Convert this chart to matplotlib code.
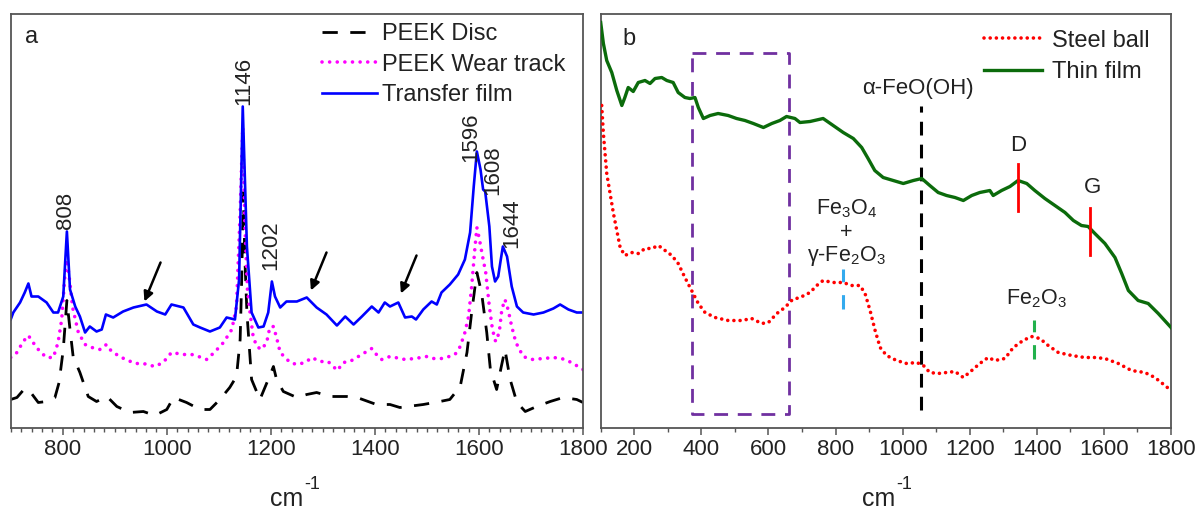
import matplotlib
matplotlib.use("Agg")
import matplotlib.pyplot as plt
from matplotlib.ticker import MultipleLocator

plt.rcParams['font.family'] = ['Liberation Sans', 'DejaVu Sans']
plt.rcParams['mathtext.default'] = 'regular'

# ---------------- Panel a data ----------------
film_x = [700, 705, 718, 727, 734, 740, 753, 769, 782, 791, 801, 808, 814, 824, 833, 843, 852, 865, 875, 883,
          897, 916, 936, 961, 981, 997, 1009, 1032, 1051, 1064, 1083, 1102, 1115, 1131, 1139, 1146, 1154, 1163,
          1176, 1186, 1195, 1202, 1208, 1218, 1230, 1250, 1269, 1288, 1307, 1327, 1343, 1359, 1375, 1394, 1407,
          1419, 1429, 1445, 1458, 1471, 1479, 1493, 1509, 1519, 1528, 1544, 1560, 1573, 1583, 1590, 1596, 1603,
          1608, 1612, 1620, 1625, 1631, 1637, 1642, 1646, 1654, 1663, 1673, 1685, 1705, 1724, 1743, 1756, 1772,
          1788, 1800]
film_y = [108, 115, 125, 135, 144, 131, 131, 125, 115, 115, 131, 196, 138, 121, 111, 95, 101, 96, 98, 113,
          110, 116, 120, 123, 116, 113, 123, 120, 103, 100, 96, 100, 110, 108, 148, 321, 181, 115,
          100, 101, 115, 146, 131, 120, 126, 126, 130, 120, 113, 102, 111, 103, 111, 121, 115,
          125, 121, 125, 110, 111, 108, 118, 126, 123, 135, 143, 153, 168, 195, 241, 276, 258,
          238, 236, 201, 161, 146, 151, 168, 181, 171, 141, 121, 115, 113, 115, 119, 123, 118,
          115, 115]

wear_x = [700, 712, 724, 734, 743, 756, 769, 782, 791, 798, 804, 808, 813, 819, 830, 843, 856, 872, 884, 894,
          913, 939, 955, 977, 993, 1009, 1032, 1048, 1061, 1077, 1093, 1109, 1125, 1134, 1141, 1146, 1150,
          1155, 1160, 1166, 1173, 1182, 1192, 1198, 1205, 1211, 1218, 1237, 1250, 1266, 1279, 1294, 1310,
          1320, 1328, 1339, 1352, 1365, 1381, 1394, 1403, 1413, 1429, 1439, 1458, 1477, 1500, 1512, 1528,
          1543, 1554, 1564, 1573, 1580, 1586, 1592, 1596, 1601, 1607, 1613, 1620, 1626, 1632, 1639, 1644,
          1650, 1656, 1663, 1671, 1685, 1701, 1724, 1743, 1759, 1778, 1800]
wear_y = [70, 75, 86, 92, 85, 76, 70, 70, 85, 108, 151, 168, 148, 120, 95, 83, 80, 78, 83, 76,
          70, 64, 64, 61, 65, 75, 73, 73, 71, 68, 76, 85, 98, 121, 215, 300, 205,
          138, 115, 91, 81, 78, 85, 100, 101, 90, 75, 65, 63, 65, 70, 66, 66,
          61, 57, 65, 66, 70, 75, 79, 73, 68, 71, 70, 68, 69, 71, 69, 69,
          71, 73, 81, 95, 111, 141, 178, 200, 188, 171, 155, 121, 98, 86, 95, 118,
          128, 118, 101, 85, 71, 68, 69, 70, 69, 65, 58]

disc_x = [700, 712, 727, 740, 753, 769, 785, 793, 801, 808, 814, 820, 833, 849, 865, 885, 904, 929, 955, 977,
          1000, 1013, 1038, 1064, 1083, 1102, 1121, 1134, 1141, 1144, 1147, 1150, 1154, 1163, 1179, 1195,
          1205, 1211, 1224, 1250, 1269, 1288, 1314, 1346, 1371, 1403, 1429, 1448, 1493, 1525, 1544, 1564,
          1577, 1586, 1596, 1605, 1615, 1622, 1634, 1643, 1650, 1660, 1673, 1689, 1711, 1737, 1762, 1788, 1800]
disc_y = [28, 30, 39, 34, 25, 26, 30, 45, 78, 127, 98, 71, 55, 31, 26, 31, 21, 15, 16, 12,
          18, 30, 25, 18, 18, 28, 40, 51, 88, 148, 235, 170, 115, 48, 28, 48,
          61, 48, 36, 30, 33, 35, 31, 31, 29, 23, 23, 20, 23, 26, 28, 41,
          75, 115, 155, 135, 95, 58, 38, 61, 78, 48, 25, 16, 21, 26, 30, 28, 25]

peak_labels = ['808', '1146', '1202', '1596', '1608', '1644']
peak_label_x = [806, 1147, 1199, 1584, 1626, 1663]
peak_label_y = [199, 323, 158, 266, 233, 180]

arrow_tail_x = [988, 1307, 1480]
arrow_tail_y = [165, 175, 172]
arrow_head_x = [957, 1277, 1450]
arrow_head_y = [126, 137, 134]

# ---------------- Panel b data ----------------
thin_x = [100, 108, 118, 133, 148, 163, 172, 182, 197, 212, 232, 247, 262, 282, 297, 316, 331, 351, 366, 381,
          391, 406, 426, 450, 480, 505, 530, 555, 585, 610, 634, 654, 679, 694, 724, 763, 793, 823, 853,
          878, 897, 917, 942, 972, 1002, 1032, 1057, 1081, 1106, 1131, 1156, 1181, 1206, 1230, 1260, 1270,
          1295, 1320, 1344, 1370, 1394, 1424, 1454, 1484, 1509, 1533, 1553, 1573, 1603, 1633, 1653, 1673,
          1702, 1732, 1762, 1800]
thin_y = [405, 384, 367, 355, 337, 322, 330, 340, 336, 345, 347, 344, 349, 350, 347, 345, 335, 330, 329, 330,
          320, 309, 312, 314, 312, 309, 307, 304, 300, 304, 307, 311, 309, 305, 306, 309, 302, 295, 289,
          280, 269, 257, 250, 247, 244, 247, 249, 242, 235, 232, 230, 227, 232, 235, 237, 232,
          237, 241, 247, 244, 237, 229, 222, 215, 207, 202, 201, 194, 184, 170, 154, 137,
          127, 124, 114, 100]

steel_x = [103, 108, 113, 118, 128, 138, 148, 158, 172, 192, 212, 232, 252, 272, 292, 312, 331, 351, 371, 391,
           411, 441, 480, 520, 550, 580, 600, 625, 649, 672, 694, 724, 744, 763, 793, 823, 848, 873, 888,
           903, 918, 933, 952, 982, 1012, 1042, 1062, 1081, 1106, 1131, 1156, 1181, 1206, 1230, 1255, 1275,
           1305, 1330, 1359, 1384, 1409, 1434, 1464, 1504, 1543, 1573, 1603, 1643, 1682, 1722, 1752, 1782, 1800]
steel_y = [322, 294, 274, 254, 234, 214, 197, 180, 172, 175, 174, 179, 179, 182, 177, 172, 164, 150, 137, 124,
           115, 110, 107, 107, 109, 104, 105, 114, 120, 128, 130, 135, 142, 147, 145, 145, 142, 142, 134,
           117, 97, 80, 72, 67, 64, 65, 62, 55, 54, 55, 56, 50, 57, 64, 70, 67,
           69, 80, 87, 91, 89, 82, 75, 72, 70, 70, 69, 64, 57, 55, 50, 42, 37]

box_x = [371, 660]
box_y = [14, 375]
feooh_x = 1055
feooh_y = [18, 322]
D_x, D_y = 1344, [217, 264]
G_x, G_y = 1560, [173, 220]
fe3o4_tick_x, fe3o4_tick_y = 821, [119, 159]
fe2o3_tick_x, fe2o3_tick_y = 1392, [69, 108]

# ---------------- Figure ----------------
W, H = 1199, 509
fig = plt.figure(figsize=(W / 100, H / 100), dpi=100)
bot = 427.5
top = 14
axa = fig.add_axes([10.7 / W, (H - bot) / H, 572.3 / W, (bot - top) / H])
axb = fig.add_axes([600.7 / W, (H - bot) / H, 570.3 / W, (bot - top) / H])

spine_c = '#555555'
txtc = '#222222'
for ax in (axa, axb):
    for s in ax.spines.values():
        s.set_color(spine_c)
        s.set_linewidth(1.3)
    ax.set_yticks([])
    ax.tick_params(axis='x', which='major', direction='out', length=5, width=1.1, color=spine_c,
                   labelsize=16, labelcolor=txtc, pad=3.5)
    ax.tick_params(axis='x', which='minor', direction='out', length=3, width=1.0, color=spine_c)
    ax.set_ylim(0, bot - top)

# Panel a
axa.set_xlim(700, 1800)
axa.set_xticks([800, 1000, 1200, 1400, 1600, 1800])
axa.xaxis.set_minor_locator(MultipleLocator(20))

l1, = axa.plot(disc_x, disc_y, color='black', lw=2.0, linestyle=(0, (5.5, 4.5)), label='PEEK Disc')
l2, = axa.plot(wear_x, wear_y, color='#FF00FF', lw=2.6, linestyle=(0, (0.01, 2.1)),
               dash_capstyle='round', label='PEEK Wear track')
l3, = axa.plot(film_x, film_y, color='#0000FF', lw=1.9, label='Transfer film')

for t, x, y in zip(peak_labels, peak_label_x, peak_label_y):
    axa.text(x, y, t, rotation=90, ha='center', va='bottom', fontsize=16, color=txtc)

for tx, ty, hx, hy in zip(arrow_tail_x, arrow_tail_y, arrow_head_x, arrow_head_y):
    axa.annotate('', xy=(hx, hy), xytext=(tx, ty),
                 arrowprops=dict(arrowstyle='-|>', color='black', lw=1.8, mutation_scale=14,
                                 shrinkA=0, shrinkB=0))

leg = axa.legend(handles=[l1, l2, l3], loc='upper left', bbox_to_anchor=(0.532, 0.995),
                 frameon=False, fontsize=17, handlelength=2.3, handletextpad=0.25,
                 labelspacing=0.36, borderpad=0.3, borderaxespad=0)
for t in leg.get_texts():
    t.set_color(txtc)
axa.text(0.036, 0.945, 'a', transform=axa.transAxes, fontsize=17, ha='center', va='center', color=txtc)

# Panel b
axb.set_xlim(100, 1800)
axb.set_xticks([200, 400, 600, 800, 1000, 1200, 1400, 1600, 1800])
axb.xaxis.set_minor_locator(MultipleLocator(100))

axb.plot([box_x[0], box_x[1], box_x[1], box_x[0], box_x[0]],
         [box_y[1], box_y[1], box_y[0], box_y[0], box_y[1]],
         color='#7030A0', lw=2.0, linestyle=(0, (5, 3.5)), zorder=1)
axb.plot([feooh_x, feooh_x], feooh_y, color='black', lw=2.2, linestyle=(0, (4.5, 3)), zorder=1)
axb.plot([fe3o4_tick_x, fe3o4_tick_x], fe3o4_tick_y, color='#33AAEE', lw=2.2, linestyle=(0, (4.7, 4.2)), zorder=1)
axb.plot([fe2o3_tick_x, fe2o3_tick_x], fe2o3_tick_y, color='#22B14C', lw=2.2, linestyle=(0, (4.7, 4.2)), zorder=1)

s1, = axb.plot(steel_x, steel_y, color='#FF0000', lw=2.6, linestyle=(0, (0.01, 1.7)),
               dash_capstyle='round', label='Steel ball', zorder=3)
s2, = axb.plot(thin_x, thin_y, color='#0B6B0B', lw=2.4, label='Thin film', zorder=3)

axb.plot([D_x, D_x], D_y, color='#FF0000', lw=2.0, zorder=4)
axb.plot([G_x, G_x], G_y, color='#FF0000', lw=2.0, zorder=4)

axb.text(feooh_x - 10, 339, 'α-FeO(OH)', ha='center', va='center', fontsize=16, color=txtc)
axb.text(D_x, 282, 'D', ha='center', va='center', fontsize=16, color=txtc)
axb.text(G_x + 5, 240, 'G', ha='center', va='center', fontsize=16, color=txtc)
axb.text(833, 219, 'Fe$_3$O$_4$', ha='center', va='center', fontsize=15.5, color=txtc)
axb.text(833, 195, '+', ha='center', va='center', fontsize=15.5, color=txtc)
axb.text(833, 171, 'γ-Fe$_2$O$_3$', ha='center', va='center', fontsize=15.5, color=txtc)
axb.text(1400, 129, 'Fe$_2$O$_3$', ha='center', va='center', fontsize=15.5, color=txtc)
axb.text(0.05, 0.94, 'b', transform=axb.transAxes, fontsize=17, ha='center', va='center', color=txtc)

leg2 = axb.legend(handles=[s1, s2], loc='upper left', bbox_to_anchor=(0.658, 0.982),
                  frameon=False, fontsize=17, handlelength=2.45, handletextpad=0.4,
                  labelspacing=0.4, borderpad=0.35, borderaxespad=0)
for t in leg2.get_texts():
    t.set_color(txtc)

# x-axis titles (cm^-1 with a hyphen superscript as in the original)
for cx in (303 / W, 895 / W):
    fig.text(cx, 1 - 506 / H, 'cm', ha='right', va='baseline', fontsize=18, color=txtc)
    fig.text(cx + 1 / W, 1 - 489 / H, '-1', ha='left', va='baseline', fontsize=13, color=txtc)

fig.savefig('out.png', dpi=100)
